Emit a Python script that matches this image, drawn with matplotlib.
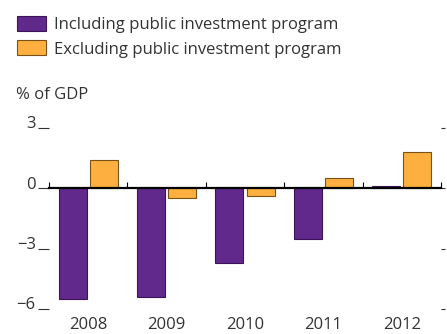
import matplotlib.pyplot as plt
import matplotlib.transforms as mtransforms
import numpy as np

years = ['2008', '2009', '2010', '2011', '2012']
incl = [-5.5, -5.4, -3.7, -2.5, 0.1]
excl = [1.4, -0.5, -0.4, 0.5, 1.8]
yticks = [3, 0, -3, -6]
ytick_labels = ['3', '0', '\u22123', '\u22126']

purple = '#62298d'
orange = '#fdb040'
txt = '#333333'
fs = 12

plt.rcParams['font.family'] = ['Open Sans', 'DejaVu Sans']

fig = plt.figure(figsize=(4.47, 3.34), dpi=100)
ax = fig.add_axes([0.1096, 0.0749, 0.877, 0.542])

x = np.arange(len(years))
w = 0.357
off = 0.198
b1 = ax.bar(x - off, incl, w, color=purple, edgecolor='#3a1656', linewidth=0.8, zorder=2)
b2 = ax.bar(x + off, excl, w, color=orange, edgecolor='#7a5214', linewidth=0.8, zorder=2)

ax.set_xlim(-0.5, len(years) - 0.5)
ax.set_ylim(-6, 3)

for s in ['top', 'left', 'right']:
    ax.spines[s].set_visible(False)
ax.spines['bottom'].set_position(('data', 0))
ax.spines['bottom'].set_linewidth(1.6)
ax.spines['bottom'].set_zorder(3)
ax.set_xticks(np.arange(-0.5, len(years)))
ax.tick_params(axis='x', direction='in', length=4, width=0.8, labelbottom=False)

sec = ax.secondary_xaxis(0)
sec.set_xticks(x)
sec.set_xticklabels(years)
sec.spines['bottom'].set_visible(False)
sec.tick_params(length=0, pad=6, labelsize=fs, labelcolor=txt)

ax.set_yticks(yticks)
ax.set_yticklabels(ytick_labels)
ax.tick_params(axis='y', left=True, right=True, direction='out', length=8,
               width=0.8, pad=1.5, labelsize=fs, labelcolor=txt, color=txt)
shift = mtransforms.ScaledTranslation(0, 4 / 72, fig.dpi_scale_trans)
for lab in ax.get_yticklabels():
    lab.set_transform(lab.get_transform() + shift)
for t in ax.yaxis.get_major_ticks():
    t.tick2line.set_markersize(3)

fig.legend([b1, b2], ['Including public investment program', 'Excluding public investment program'],
           loc='upper left', bbox_to_anchor=(0.022, 0.972), frameon=False, fontsize=fs,
           handlelength=1.74, handleheight=1.0, handletextpad=0.5, labelspacing=0.43,
           labelcolor=txt, borderaxespad=0)
fig.text(0.036, 0.715, '% of GDP', fontsize=fs, color=txt, va='center')

fig.savefig('out.png', dpi=100)
